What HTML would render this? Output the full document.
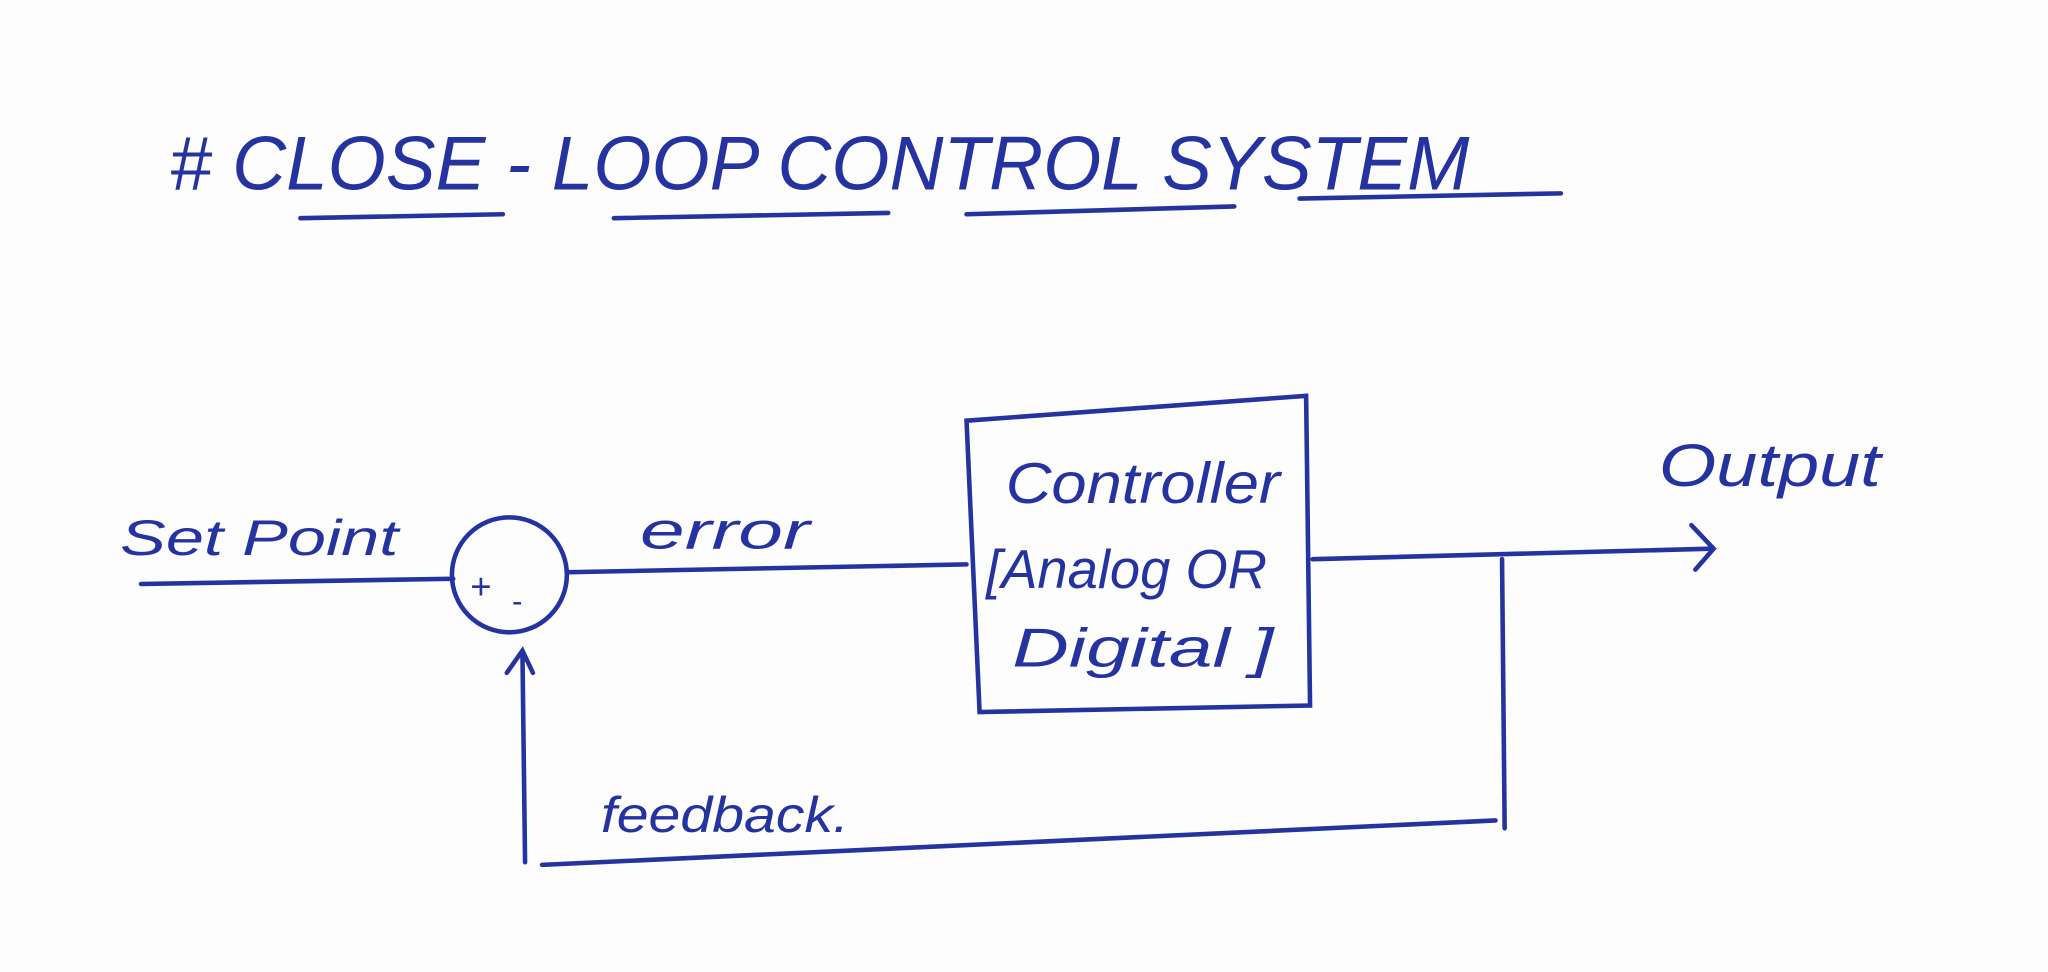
<!DOCTYPE html>
<html><head><style>html,body{margin:0;padding:0;background:#fff;}svg{display:block}</style></head>
<body>
<svg width="2048" height="972" viewBox="0 0 1568 744" preserveAspectRatio="none" xmlns="http://www.w3.org/2000/svg">
<rect width="1568" height="744" fill="#fdfdfd"/>
<g stroke="#2533a0" stroke-width="3.5" fill="none" stroke-linecap="round">
<line x1="230" y1="167" x2="385" y2="164"/>
<line x1="470" y1="167" x2="680" y2="163"/>
<line x1="740" y1="164" x2="945" y2="158"/>
<line x1="995" y1="152" x2="1195" y2="148"/>
<line x1="108" y1="447" x2="347" y2="443"/>
<circle cx="390" cy="440" r="44"/>
<line x1="434" y1="438" x2="740" y2="432"/>
<path d="M740 322 L1000 303 L1003 540 L750 545 Z"/>
<line x1="1005" y1="428" x2="1310" y2="420"/>
<path d="M1295 402 L1312 420 L1298 436"/>
<line x1="1150" y1="428" x2="1152" y2="634"/>
<line x1="1145" y1="628" x2="415" y2="662"/>
<line x1="402" y1="660" x2="400" y2="500"/>
<path d="M388 515 L400 498 L408 515"/>
</g>
<g fill="#2533a0" font-family="Liberation Sans Narrow, Liberation Sans, sans-serif" font-style="italic">
<text x="130" y="145" font-size="58" textLength="995" lengthAdjust="spacingAndGlyphs">#  CLOSE - LOOP  CONTROL  SYSTEM</text>
<text x="92" y="425" font-size="38" textLength="213" lengthAdjust="spacingAndGlyphs">Set Point</text>
<text x="490" y="420" font-size="40" textLength="130" lengthAdjust="spacingAndGlyphs">error</text>
<text x="360" y="458" font-size="28" font-style="normal">+</text>
<text x="392" y="468" font-size="24" font-style="normal">-</text>
<text x="770" y="385" font-size="44" textLength="210" lengthAdjust="spacingAndGlyphs">Controller</text>
<text x="755" y="450" font-size="42" textLength="215" lengthAdjust="spacingAndGlyphs">[Analog OR</text>
<text x="775" y="510" font-size="42" textLength="200" lengthAdjust="spacingAndGlyphs">Digital  ]</text>
<text x="1270" y="372" font-size="46" textLength="170" lengthAdjust="spacingAndGlyphs">Output</text>
<text x="460" y="637" font-size="38" textLength="190" lengthAdjust="spacingAndGlyphs">feedback.</text>
</g>
</svg>
</body></html>
